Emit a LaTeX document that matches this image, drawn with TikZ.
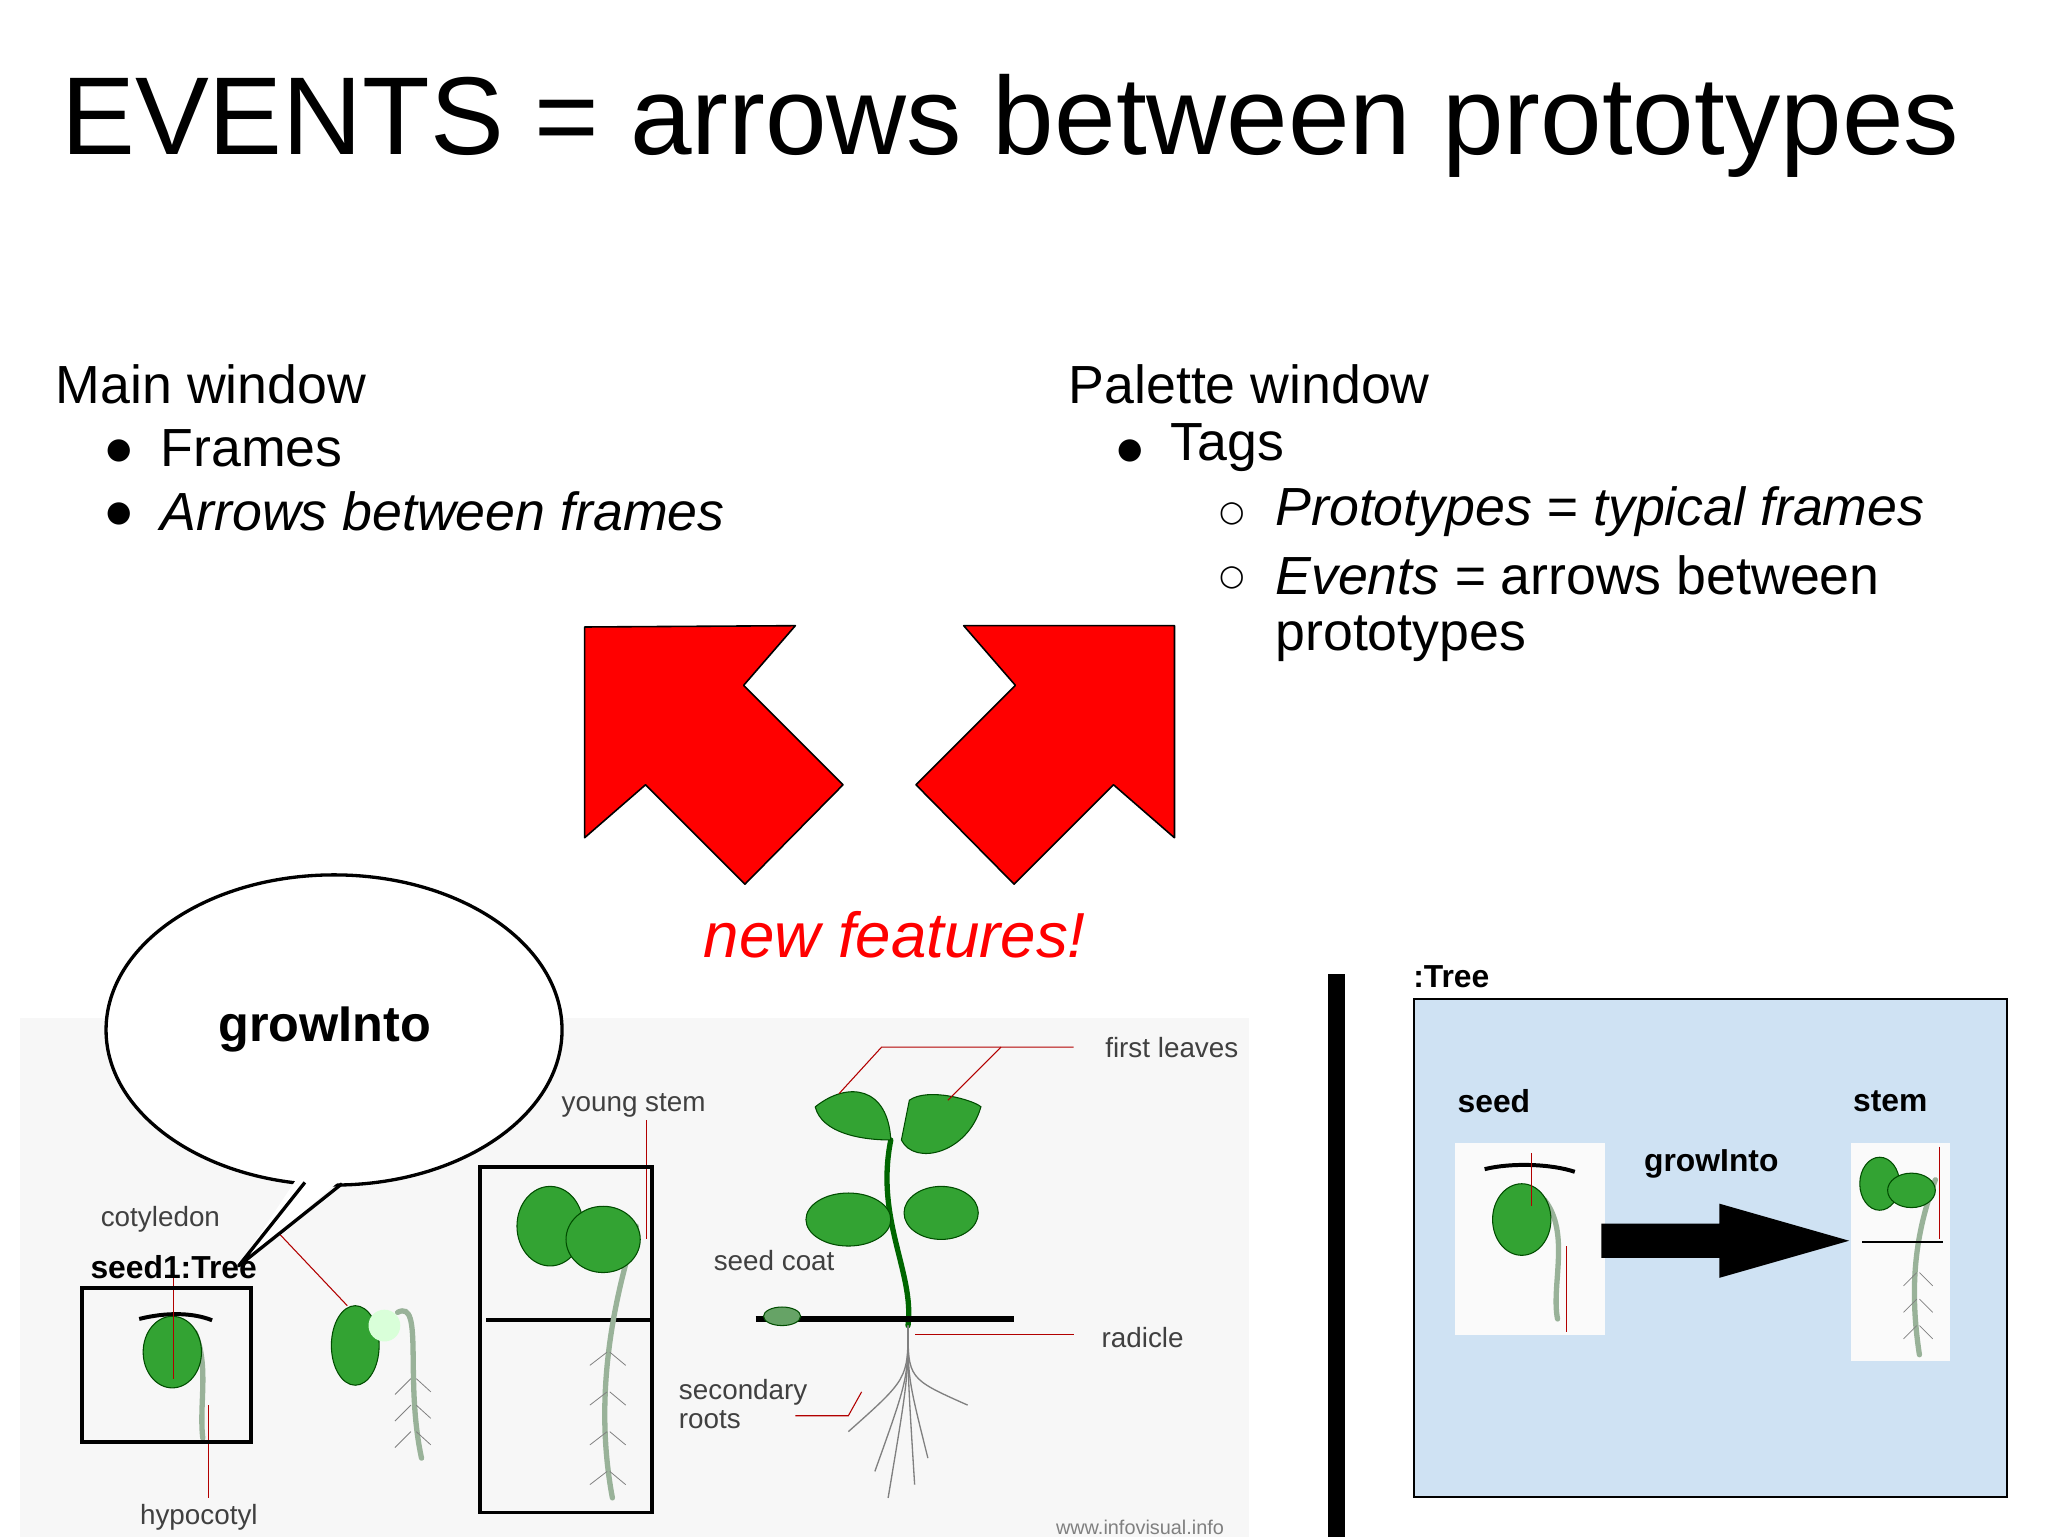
\documentclass[tikz,border=0pt]{standalone}
\usepackage{fontspec}
\usetikzlibrary{shapes.geometric}
\setmainfont{Liberation Sans}
\newfontfamily\bulf{DejaVu Sans}
\definecolor{panelblue}{HTML}{CFE2F3}
\begin{document}
\begin{tikzpicture}[x=1pt,y=-1pt,
  txt/.style={anchor=west,inner sep=0pt,font=\fontsize{40.5}{42}\selectfont},
  bul/.style={anchor=west,inner sep=0pt,font=\bulf\fontsize{22}{24}\selectfont},
  lab/.style={inner sep=0pt,font=\fontsize{21}{23}\selectfont,text=black!75},
  bld/.style={inner sep=0pt,font=\fontsize{24}{26}\selectfont\bfseries},
  redarrow/.style={fill=red,draw=black,line width=1.2pt,line join=round},
  leaf/.style={fill=green!55!black!80,draw=green!30!black,line width=0.8pt},
  stemline/.style={draw=green!40!black,line width=4pt,line cap=round},
  pin/.style={draw=red!70!black,line width=0.8pt},
  root/.style={draw=black!50,line width=0.6pt}]
\useasboundingbox (0,0) rectangle (1545,1159);
\fill[white] (0,0) rectangle (1545,1159);
% title
\node[anchor=west,inner sep=0pt,font=\fontsize{83.5}{85}\selectfont] (title) at (46,95) {EVENTS = arrows between prototypes};
% left text
\node[txt] (mw) at (42,290) {Main window};
\node[bul] (b1) at (80,340) {●};
\node[txt] (fr) at (121,338) {Frames};
\node[bul] (b2) at (80,388) {●};
\node[txt] (ar) at (121,386) {\itshape Arrows between frames};
% right text
\node[txt] (pw) at (806,290) {Palette window};
\node[bul] (b3) at (843,340) {●};
\node[txt] (tg) at (883,338) {Tags};
\node[bul] (c1) at (920,388) {○};
\node[txt] (pr) at (962,386) {\itshape Prototypes = typical frames};
\node[bul] (c2) at (920,436) {○};
\node[txt] (ev) at (962,434) {\itshape Events = \upshape arrows between};
\node[txt] (ev2) at (962,482) {prototypes};
% red arrows
\draw[redarrow] (441,473) -- (600,472) -- (561,517) -- (636,592) -- (562,667) -- (487,592) -- (441,632) -- cycle;
\draw[redarrow] (886,472) -- (727,472) -- (766,517) -- (691,592) -- (765,667) -- (840,592) -- (886,632) -- cycle;
\node[inner sep=0pt,text=red,font=\fontsize{48}{50}\selectfont\itshape] (nf) at (675,705) {new features!};
% plant picture background
\fill[black!3] (15,768) rectangle (942,1160);
% stage 1 seed
\draw[black,line width=3pt] (105,995) .. controls (125,990) and (145,990) .. (160,996);
\draw[stemline,draw=green!25!black!40] (147,1005) .. controls (158,1030) and (150,1060) .. (153,1085);
\draw[leaf] (130,1020) ellipse (22pt and 27pt);
\draw[pin] (131,960) -- (131,1040);
\draw[pin] (157,1060) -- (157,1130);
% stage 2
\draw[stemline,draw=green!25!black!40] (300,990) .. controls (320,980) and (305,1040) .. (318,1100);
\draw[leaf] (268,1015) ellipse (18pt and 30pt);
\fill[green!15] (290,1000) circle (12pt);
\draw[pin] (210,930) -- (262,985);
\foreach \a in {1040,1060,1080}{\draw[root] (310,\a) -- (298,\a+12); \draw[root] (314,\a) -- (325,\a+10);}
% stage 3
\draw[black,line width=3pt] (367,996) -- (490,996);
\draw[stemline,draw=green!25!black!40] (480,925) .. controls (470,960) and (445,1040) .. (462,1130);
\draw[leaf] (415,925) ellipse (25pt and 30pt);
\draw[leaf] (455,935) ellipse (28pt and 25pt);
\draw[pin] (488,845) -- (488,935);
\foreach \a in {1020,1050,1080,1110}{\draw[root] (458,\a) -- (445,\a+10); \draw[root] (460,\a) -- (472,\a+10);}
% stage 4
\draw[stemline] (672,860) .. controls (660,920) and (690,960) .. (685,1000);
\draw[leaf] (615,835) .. controls (640,815) and (670,820) .. (672,860) .. controls (650,860) and (620,855) .. (615,835);
\draw[leaf] (686,830) .. controls (700,820) and (735,830) .. (740,835) .. controls (730,870) and (690,880) .. (680,860) -- cycle;
\draw[leaf] (640,920) ellipse (32pt and 20pt);
\draw[leaf] (710,915) ellipse (28pt and 20pt);
\draw[black,line width=4pt] (570,995) -- (765,995);
\draw[leaf,fill=green!40!black!60] (590,993) ellipse (14pt and 7pt);
\foreach \a/\b in {640/1080,660/1110,700/1100,730/1060,670/1130,690/1120}{\draw[root,line width=1pt] (685,1000) .. controls (685,1040) .. (\a,\b);}
\draw[pin] (810,790) -- (755,790) -- (715,830);
\draw[pin] (755,790) -- (665,790) -- (633,825);
\draw[pin] (810,1007) -- (690,1007);
\draw[pin] (600,1068) -- (640,1068) -- (650,1050);
% labels
\node[lab] (cot) at (121,920) {cotyledon};
\node[lab] (hyp) at (150,1145) {hypocotyl};
\node[lab] (ys) at (478,834) {young stem};
\node[lab] (fl) at (884,790) {first leaves};
\node[lab] (sc) at (584,951) {seed coat};
\node[lab] (rad) at (862,1009) {radicle};
\node[lab,align=left,anchor=north west,font=\fontsize{21}{22}\selectfont] (sr) at (512,1040) {secondary\\roots};
\node[lab,font=\fontsize{15}{16}\selectfont,text=black!50] (www) at (860,1152) {www.infovisual.info};
\draw[line width=3pt] (62,972) rectangle (189,1088);
\draw[line width=3pt] (362,880) rectangle (492,1141);
\node[bld] (s1) at (131,956) {seed1:Tree};
% speech bubble
\node[draw,line width=2.5pt,fill=white,ellipse,minimum width=344pt,minimum height=234pt,inner sep=0pt] (bub) at (252,777) {};
\coordinate (tip) at (180,955);
\fill[white] (226,886) -- (tip) -- (262,886) -- cycle;
\draw[line width=2.5pt,line join=round] (230,892) -- (tip) -- (258,893);
\node[inner sep=0pt,font=\fontsize{38}{40}\selectfont\bfseries] (gi) at (245,777) {growInto};
% divider
\fill[black] (1002,735) rectangle (1015,1162);
% right panel
\node[bld,anchor=west] (tr) at (1066,737) {:Tree};
\draw[fill=panelblue,line width=1.5pt] (1067,754) rectangle (1514,1129);
\node[bld] (seed) at (1127,831) {seed};
\node[bld] (stem) at (1426,831) {stem};
\node[bld] (gi2) at (1291,878) {growInto};
\fill[black!2] (1098,862) rectangle (1211,1007);
\draw[black,line width=3pt] (1120,882) .. controls (1140,877) and (1170,878) .. (1188,884);
\draw[stemline,draw=green!25!black!40] (1165,905) .. controls (1185,930) and (1170,970) .. (1175,995);
\draw[leaf] (1148,920) ellipse (22pt and 27pt);
\draw[pin] (1155,870) -- (1155,910); \draw[pin] (1182,940) -- (1182,1005);
\fill[black!2] (1396,862) rectangle (1471,1027);
\draw[stemline,draw=green!25!black!40] (1460,890) .. controls (1445,930) and (1440,970) .. (1448,1022);
\draw[leaf] (1418,893) ellipse (15pt and 20pt);
\draw[leaf] (1442,898) ellipse (18pt and 13pt);
\draw[black,line width=2pt] (1405,937) -- (1466,937);
\draw[pin] (1463,865) -- (1463,935);
\foreach \a in {960,980,1000}{\draw[root] (1446,\a) -- (1436,\a+10); \draw[root] (1448,\a) -- (1458,\a+10);}
\coordinate (as) at (1208,936);
\coordinate (ae) at (1395,936);
\fill[black] (as) ++(0,-13) -- ++(89,0) -- ++(0,-15) -- (ae) -- ++(-98,28) -- ++(0,-15) -- ++(-89,0) -- cycle;
\end{tikzpicture}
\end{document}
